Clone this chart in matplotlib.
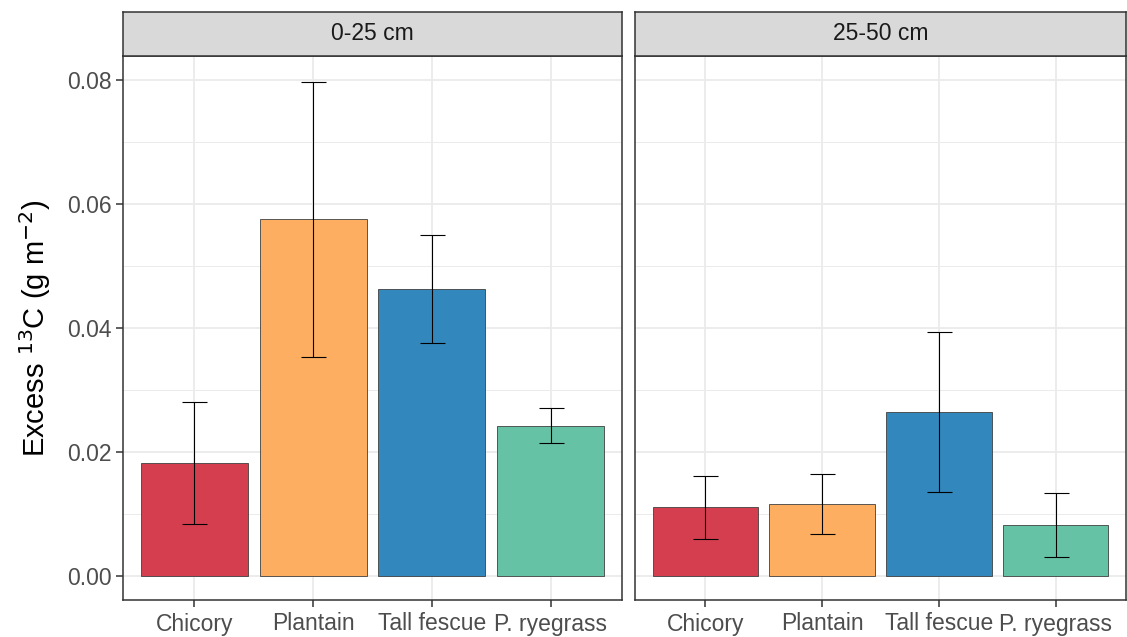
import numpy as np
import matplotlib.pyplot as plt
from matplotlib.ticker import MultipleLocator

plt.rcParams['font.family'] = ['Liberation Sans', 'DejaVu Sans']

species = ['Chicory', 'Plantain', 'Tall fescue', 'P. ryegrass']
colors = ['#D53E4F', '#FDAE61', '#3288BD', '#66C2A5']
depths = ['0-25 cm', '25-50 cm']

# mean excess 13C and error bar limits per depth
mean_top = [0.0182, 0.0575, 0.0463, 0.0242]
low_top = [0.0084, 0.0353, 0.0376, 0.0214]
high_top = [0.0280, 0.0797, 0.0550, 0.0271]

mean_sub = [0.0111, 0.0116, 0.0265, 0.0082]
low_sub = [0.0060, 0.0068, 0.0136, 0.0031]
high_sub = [0.0162, 0.0164, 0.0394, 0.0134]

means = [mean_top, mean_sub]
lows = [low_top, low_sub]
highs = [high_top, high_sub]

W, H = 1127, 637
fig = plt.figure(figsize=(W / 100, H / 100), dpi=100)

# panel extents in pixels: left, right
panels = [(123, 622), (635, 1126)]
p_top, p_bot, strip_top = 56, 600, 12

ymin = -24 / 6200
ymax = 0.08 + 24 / 6200

x = np.arange(1, 5)
for i, (l, r) in enumerate(panels):
    ax = fig.add_axes([l / W, 1 - p_bot / H, (r - l) / W, (p_bot - p_top) / H])
    ax.set_xlim(0.4, 4.6)
    ax.set_ylim(ymin, ymax)
    ax.yaxis.set_major_locator(MultipleLocator(0.02))
    ax.yaxis.set_minor_locator(MultipleLocator(0.01))
    ax.grid(which='major', color='#EBEBEB', lw=1.3, zorder=0)
    ax.grid(which='minor', axis='y', color='#EBEBEB', lw=0.7, zorder=0)
    ax.set_axisbelow(True)

    m = np.array(means[i])
    lo = np.array(lows[i])
    hi = np.array(highs[i])
    ax.bar(x, m, width=0.9, color=colors, edgecolor='#404040', lw=0.6, zorder=2)
    ax.errorbar(x, m, yerr=[m - lo, hi - m], fmt='none', ecolor='black',
                elinewidth=0.8, capsize=9, capthick=0.8, zorder=3)

    ax.set_xticks(x)
    ax.set_xticklabels(species, fontsize=16.5, color='#4D4D4D')
    ax.tick_params(axis='x', length=5, width=1.1, color='#333333', pad=4)
    ax.set_yticks([0, 0.02, 0.04, 0.06, 0.08])
    if i == 0:
        ax.set_yticklabels(['0.00', '0.02', '0.04', '0.06', '0.08'],
                           fontsize=16.5, color='#4D4D4D')
        ax.tick_params(axis='y', length=5, width=1.1, color='#333333', pad=3)
        ax.set_ylabel('Excess $^{13}$C (g m$^{-2}$)', fontsize=21, labelpad=10)
    else:
        ax.tick_params(axis='y', length=0, labelleft=False)
    ax.tick_params(which='minor', length=0)
    for s in ax.spines.values():
        s.set_color('#333333')
        s.set_linewidth(1.1)

    # facet strip
    sax = fig.add_axes([l / W, 1 - p_top / H, (r - l) / W, (p_top - strip_top) / H])
    sax.set_facecolor('#D9D9D9')
    sax.set_xticks([])
    sax.set_yticks([])
    for s in sax.spines.values():
        s.set_color('#333333')
        s.set_linewidth(1.1)
    sax.text(0.5, 0.5, depths[i], ha='center', va='center', fontsize=16.5,
             color='#1A1A1A', transform=sax.transAxes)

fig.savefig('out.png', dpi=100)
